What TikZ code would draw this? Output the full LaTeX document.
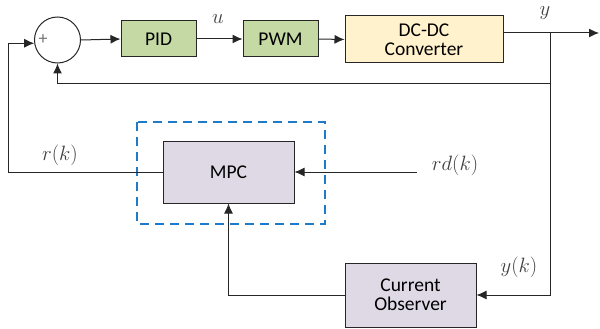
\documentclass[tikz,border=0pt]{standalone}
\usepackage{fontspec}
\setmainfont{Carlito}
\usetikzlibrary{arrows.meta}
\definecolor{pidgreen}{HTML}{C5D9A5}
\definecolor{dcyellow}{HTML}{FFF2CC}
\definecolor{mpcpurple}{HTML}{DFD9E6}
\definecolor{dashblue}{HTML}{1F7BC8}
\definecolor{labgray}{HTML}{404040}
\tikzset{
  blk/.style={draw=black!85, line width=1pt, inner sep=0pt, align=center, font=\fontsize{19.5}{22}\selectfont},
  arr/.style={line width=1pt, draw=black!85, -{Latex[length=10pt,width=9pt]}},
  lab/.style={text=labgray, font=\fontsize{22}{24}\selectfont},
}
\begin{document}
\begin{tikzpicture}[x=1pt,y=-1pt]
\useasboundingbox (0,0) rectangle (600,329);
% dashed frame
\draw[dashblue, line width=1.2pt, dash pattern=on 9pt off 6pt] (137,122) rectangle (325,224);
% nodes
\node[draw=black!85, line width=1pt, circle, minimum size=46pt, inner sep=0pt] (sum) at (57.5,40) {};
\node[text=black!55, font=\fontsize{18}{18}\selectfont] (plus) at (43,40) {+};
\node[blk, fill=pidgreen, minimum width=75pt, minimum height=36pt] (pid) at (158.5,39) {PID};
\node[blk, fill=pidgreen, minimum width=75pt, minimum height=36pt] (pwm) at (280.5,39) {PWM};
\node[blk, fill=dcyellow, minimum width=158pt, minimum height=47pt] (dc) at (424,39.5) {DC-DC\\[-3pt]Converter};
\node[blk, fill=mpcpurple, minimum width=131pt, minimum height=62pt] (mpc) at (228.5,172) {MPC};
\node[blk, fill=mpcpurple, minimum width=131pt, minimum height=64pt] (obs) at (410.5,295) {Current\\[-3pt]Observer};
% coordinates
\coordinate (dcout) at (503,33);
\coordinate (out) at (599,33);
\coordinate (br) at (550,33);
\coordinate (fb) at (550,84);
\coordinate (lc) at (8,172);
\coordinate (rdk) at (417,172);
% connectors
\draw[arr] (sum.east) -- (pid.west);
\draw[arr] (pid.east) -- (pwm.west);
\draw[arr] (pwm.east) -- (dc.west);
\draw[arr] (dcout) -- (out);
\draw[arr] (br) |- (obs.east);
\draw[arr] (fb) -| (sum.south);
\draw[arr] (mpc.west) -- (lc) |- (sum.188);
\draw[arr] (rdk) -- (mpc.east);
\draw[arr] (obs.west) -| (mpc.south);
% labels
\node[lab] (ul) at (218,19) {$u$};
\node[lab] (yl) at (545,13) {$y$};
\node[lab] (rl) at (60,155) {$r(k)$};
\node[lab] (rdl) at (455,165) {$rd(k)$};
\node[lab] (ykl) at (519,267) {$y(k)$};
\end{tikzpicture}
\end{document}
